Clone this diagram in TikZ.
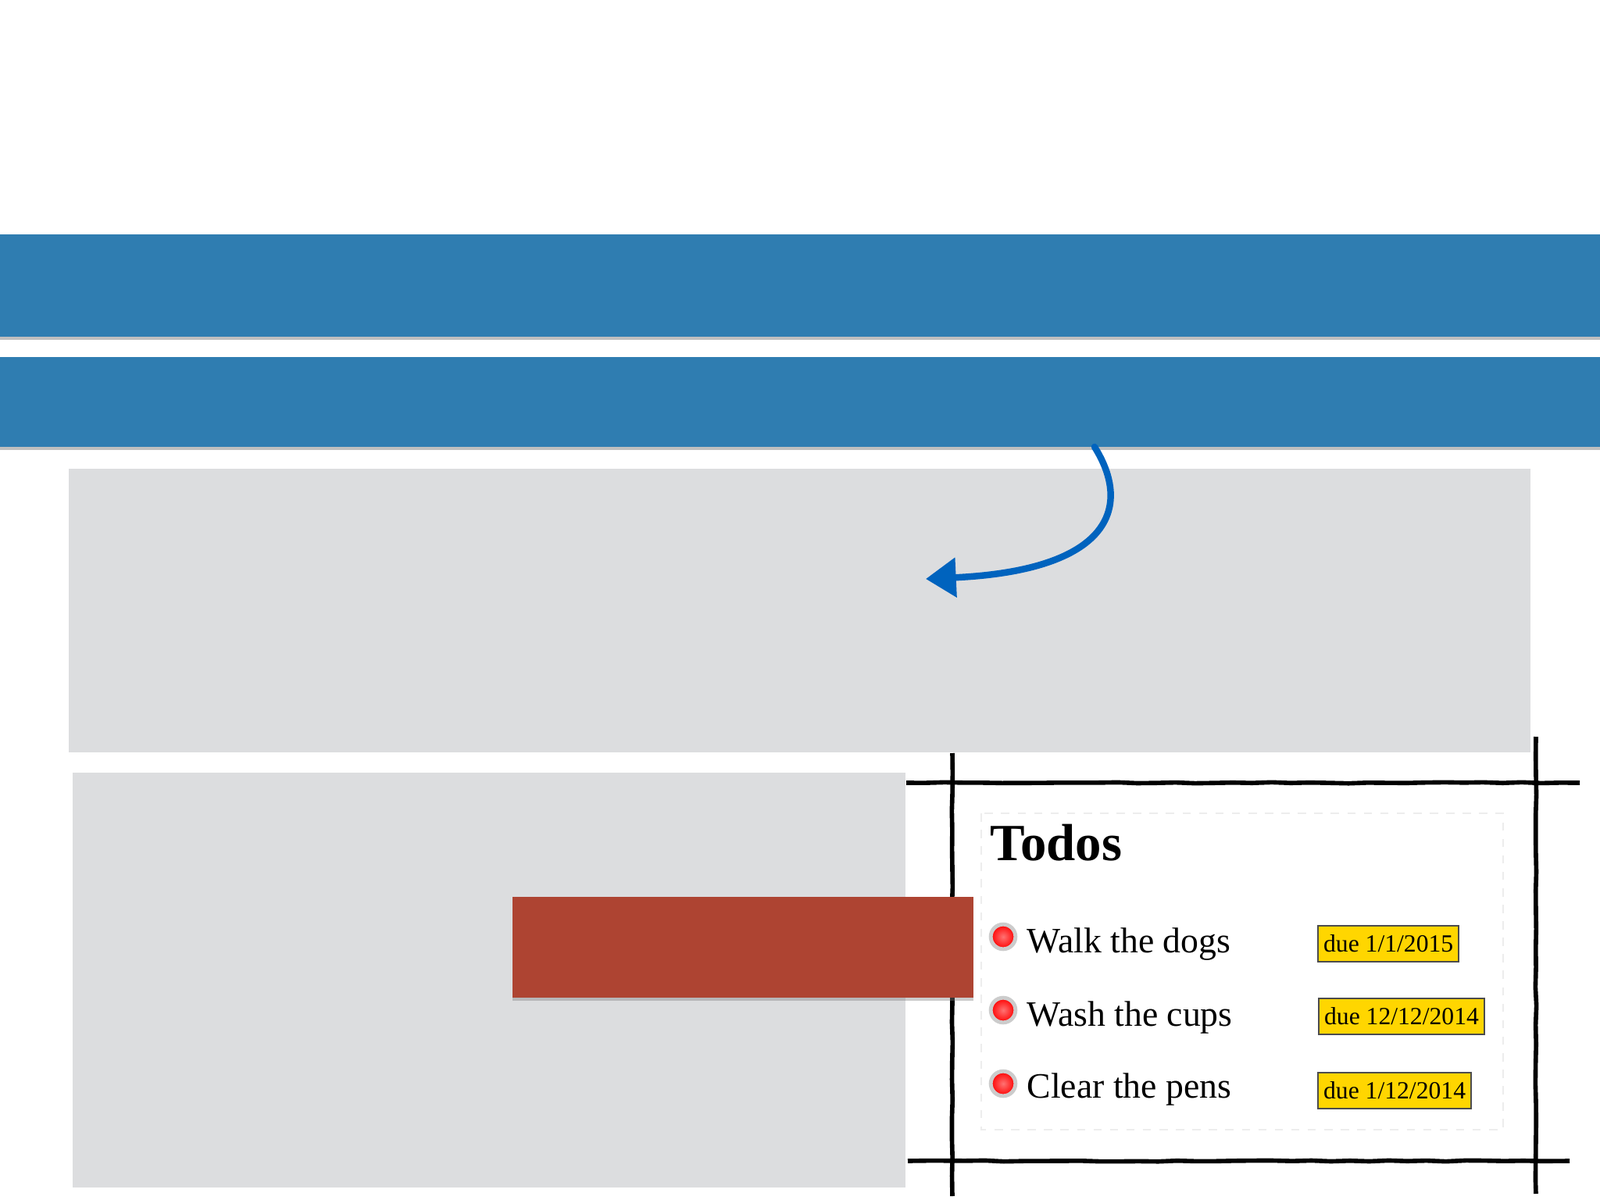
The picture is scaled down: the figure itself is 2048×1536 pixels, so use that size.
\documentclass[tikz,border=0pt]{standalone}
\usepackage{fontspec}
\setmainfont{Liberation Serif}
\usetikzlibrary{arrows.meta,shadows,decorations.pathmorphing}
\definecolor{bandblue}{RGB}{47,125,177}
\definecolor{panelgrey}{RGB}{220,221,223}
\definecolor{brickred}{RGB}{174,68,50}
\definecolor{chalkblue}{RGB}{0,99,190}
\definecolor{duegold}{RGB}{255,214,0}

\begin{document}
\begin{tikzpicture}[x=0.01cm,y=-0.01cm,
  band/.style={fill=bandblue,drop shadow={shadow xshift=0pt,shadow yshift=-1.2pt,opacity=.5}},
  panel/.style={fill=panelgrey},
  sketch/.style={line width=1.6pt,decorate,decoration={random steps,segment length=7pt,amplitude=.2pt}},
  bullet/.style={circle,draw=gray!40,line width=1.4pt,shading=radial,inner color=red!55!white,outer color=red,minimum size=9pt,inner sep=0pt},
  todo/.style={anchor=base west,inner sep=0pt,font=\fontsize{13}{15}\selectfont},
  due/.style={draw=black!70,fill=duegold,line width=.6pt,inner xsep=2pt,minimum height=12pt,font=\fontsize{9}{10}\selectfont,anchor=west}]
\useasboundingbox[fill=white] (0,0) rectangle (2048,1536);

\fill[band] (0,300) rectangle (2048,431);
\fill[band] (0,457) rectangle (2048,572);

\fill[panel] (88,600) rectangle (1959,963);
\fill[panel] (93,989) rectangle (1159,1520);

\draw[black!7,line width=.4pt,dashed] (1256,1041) rectangle (1924,1446);
\draw[sketch] (1160,1002) -- (2022,1002);
\draw[sketch] (1162,1486) -- (2009,1486);
\draw[sketch] (1219,964) -- (1219,1531);
\draw[sketch] (1966,943) -- (1966,1528);

\fill[brickred,drop shadow={shadow xshift=0pt,shadow yshift=-1.2pt,opacity=.4}] (656,1148) rectangle (1246,1277);

\node[anchor=base west,inner sep=0pt,font=\bfseries\fontsize{19}{22}\selectfont] (title) at (1267,1101) {Todos};

\node[bullet] (b1) at (1284,1199) {};
\node[todo] (t1) at (1314,1219) {Walk the dogs};
\node[due] (d1) at (1686,1208) {due 1/1/2015};

\node[bullet] (b2) at (1284,1293) {};
\node[todo] (t2) at (1314,1313) {Wash the cups};
\node[due] (d2) at (1687,1301) {due 12/12/2014};

\node[bullet] (b3) at (1284,1387) {};
\node[todo] (t3) at (1314,1405) {Clear the pens};
\node[due] (d3) at (1686,1396) {due 1/12/2014};

\coordinate (arrowfrom) at (1401,572);
\coordinate (arrowto) at (1185,741);
\draw[chalkblue,line width=2.4pt,line cap=round,-{Triangle[length=11pt,width=14pt]}] (arrowfrom) .. controls (1450,650) and (1420,730) .. (arrowto);

\end{tikzpicture}
\end{document}
